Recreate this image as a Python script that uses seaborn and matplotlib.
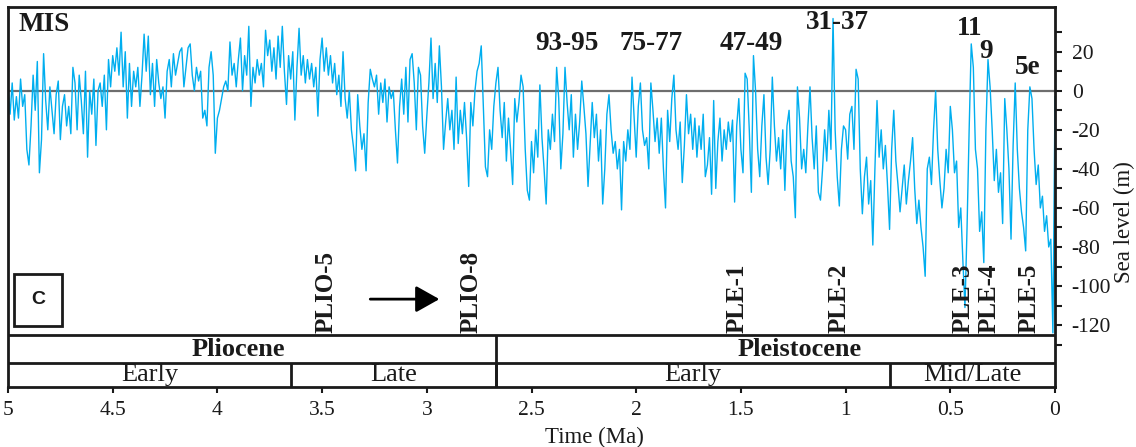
import numpy as np
import matplotlib
matplotlib.use("Agg")
import matplotlib.pyplot as plt
import seaborn as sns
from matplotlib.patches import Rectangle

# sea level (m), one reading every 10 kyr (5 Ma -> 0 Ma)
sl_5_4 = [2, -12, 4, -15, -3, -14, 6, -8, -2, -30,
          -38, -18, 8, -10, 15, -42, -25, 19, -5, -20,
          2, -10, -22, -2, 5, -25, -8, -2, -18, -8,
          -22, 12, 4, -20, 8, -5, -22, 10, -34, 0,
          -12, 6, -28, 0, 4, -8, 8, -20, 16, 2,
          18, 10, 22, 8, 30, 2, 20, -14, 14, -8,
          10, 2, 12, -8, 8, 29, 10, 28, -2, 14,
          -8, 16, 4, -4, 2, -14, 10, 16, 2, 19,
          8, 14, 20, 22, 2, 12, 22, 24, 8, 0,
          12, 5, 10, -14, -10, -18, 12, 20, 8, -32]
sl_4_3 = [-14, -10, -4, 2, 5, 0, 25, 8, 14, 2,
          16, 27, 0, 18, 8, 33, -8, 12, 4, 16,
          8, 14, 2, 31, 18, 26, 10, 22, 6, 28,
          12, 33, 10, -7, 18, 6, 20, -15, 12, 32,
          8, 18, 4, 16, 6, 14, 2, 12, -13, 16,
          27, 10, 22, 8, 18, 4, 14, -2, 8, -8,
          20, -4, -14, 0, -20, -29, -41, -2, -18, -30,
          -22, -41, -6, 11, 6, 2, 8, -12, 4, -6,
          6, -16, 2, -4, 0, -20, -37, -8, 6, -12,
          12, -16, 16, 19, 4, -20, 12, 8, -18, -32]
sl_3_2 = [-13, 4, 27, -4, 14, -6, 23, 2, -30, -16,
          -4, -20, -10, -30, 7, -27, -10, -22, -6, -24,
          -49, -6, -18, 0, 10, 14, 23, -8, -39, -44,
          -20, -30, -8, 4, 12, -10, -24, -6, -36, -14,
          -30, -48, -4, -16, -6, 8, 2, -30, -51, -56,
          -26, -42, -20, -34, 3, -24, -40, -58, -20, -30,
          -12, -26, 12, -4, -40, -22, 12, -6, -20, -2,
          -34, -12, -30, -16, 5, -8, -22, -49, -28, -6,
          -24, -12, -36, -20, -58, -40, -12, -2, -20, -32,
          -26, -40, -30, -61, -26, -36, -20, -30, 7, -14]
sl_2_1 = [-34, -8, 4, -20, -28, -24, -40, 4, -10, -26,
          -14, -32, -14, -40, -60, -10, -26, -4, 8, -20,
          -30, -16, -47, -28, -2, -22, -12, -30, -14, -34,
          -18, -30, -12, -44, -38, -24, -53, -5, -50, -26,
          -14, -36, -20, -30, -16, -26, -15, -57, -18, -4,
          -30, -42, 9, 6, -20, -52, 18, 0, -30, -44,
          -18, -2, -34, -48, -30, 7, -18, -36, -24, -40,
          -20, -51, -18, -10, -36, -44, -65, 2, -14, -40,
          -30, -42, -18, 2, -24, -40, -18, -52, -56, -40,
          -20, -36, -10, -30, 37, -20, -44, -59, -30, -18]
sl_1_0 = [-20, -35, -12, -8, -30, 11, 6, -40, -63, -44,
          -34, -58, -46, -79, -40, -5, -34, -20, -40, -28,
          -48, -71, -30, -10, -36, -48, -62, -50, -38, -58,
          -46, -36, -24, -50, -68, -56, -70, -80, -95, -40,
          -34, -48, -20, 0, -30, -46, -60, -50, -30, -42,
          -8, -20, -42, -36, -70, -60, -87, -111, -70, -20,
          24, 12, -30, -40, -72, -62, -88, -20, 16, 2,
          -20, -46, -30, -52, -42, -68, -4, -20, -40, -76,
          -28, 4, -30, -50, -62, -70, -82, -20, 2, -4,
          -30, -48, -38, -60, -54, -72, -64, -80, -76, -124,
          -3]

mis_labels = ['93-95', '75-77', '47-49', '31-37', '11', '9', '5e']
mis_age = [2.33, 1.93, 1.45, 1.04, 0.41, 0.33, 0.13]
mis_level = [24, 24, 24, 35, 32, 20, 12]

sample_labels = ['PLIO-5', 'PLIO-8', 'PLE-1', 'PLE-2', 'PLE-3', 'PLE-4', 'PLE-5']
sample_age = [3.48, 2.79, 1.52, 1.03, 0.44, 0.315, 0.125]

epochs = ['Pliocene', 'Pleistocene']
epoch_bounds = [5, 2.67, 0]
epoch_label_age = [3.9, 1.22]
subepochs = ['Early', 'Late', 'Early', 'Mid/Late']
subepoch_bounds = [5, 3.65, 2.67, 0.79, 0]

level = np.array(sl_5_4 + sl_4_3 + sl_3_2 + sl_2_1 + sl_1_0, dtype=float)
ages = np.linspace(5, 0, len(level))

sns.set_style("ticks")
plt.rcParams['font.family'] = ['Liberation Serif', 'DejaVu Sans']
plt.rcParams['axes.unicode_minus'] = False

ymin, ymax = -151.7, 42.9
band_top, band_mid = -125.1, -139.4

fig = plt.figure(figsize=(11.36, 4.47), dpi=100)
ax = fig.add_axes([8 / 1136, 60 / 447, 1047 / 1136, 380 / 447])

ax.axhline(0, color='#6e6e6e', lw=1.6, zorder=1)
sns.lineplot(x=ages, y=level, color='#00aeef', linewidth=1.0, ax=ax,
             estimator=None, sort=False, zorder=2)

ax.set_xlim(5, 0)
ax.set_ylim(ymin, ymax)

# chronostratigraphy bands
ax.axhline(band_top, color='#1a1a1a', lw=2)
ax.axhline(band_mid, color='#1a1a1a', lw=2)
ax.vlines(epoch_bounds[1:-1], ymin, band_top, color='#1a1a1a', lw=2)
ax.vlines(subepoch_bounds[1:-1], ymin, band_mid, color='#1a1a1a', lw=2)
for name, xpos in zip(epochs, epoch_label_age):
    ax.text(xpos, (band_top + band_mid) / 2, name, ha='center', va='center',
            fontsize=19, fontweight='bold', color='#1a1a1a')
for i, name in enumerate(subepochs):
    xpos = (subepoch_bounds[i] + subepoch_bounds[i + 1]) / 2
    ax.text(xpos, (band_mid + ymin) / 2, name, ha='center', va='center',
            fontsize=19, color='#1a1a1a')

# MIS labels
ax.text(0.01, 0.955, 'MIS', transform=ax.transAxes, ha='left', va='center',
        fontsize=19.5, fontweight='bold', color='#1a1a1a')
for lab, a, l in zip(mis_labels, mis_age, mis_level):
    ax.text(a, l, lab, ha='center', va='center', fontsize=19.5,
            fontweight='bold', color='#1a1a1a')

# sample labels
for lab, a in zip(sample_labels, sample_age):
    ax.text(a, band_top + 1, lab, rotation=90, ha='center', va='bottom',
            fontsize=18, fontweight='bold', color='#1a1a1a')

ax.annotate('', xy=(2.94, -106.7), xytext=(3.27, -106.7),
            arrowprops=dict(arrowstyle='-|>,head_length=0.8,head_width=0.45',
                            color='black', lw=2, mutation_scale=18,
                            shrinkA=0, shrinkB=0))

# panel letter box
ax.add_patch(Rectangle((0.0057, 0.1605), 0.0458, 0.137, transform=ax.transAxes,
                       fill=False, edgecolor='#1a1a1a', lw=2))
ax.text(0.0286, 0.229, 'C', transform=ax.transAxes, ha='center', va='center',
        fontsize=14, fontweight='bold', family='Liberation Sans', color='#1a1a1a')

# axes and ticks
for s in ax.spines.values():
    s.set_linewidth(2)
    s.set_color('#1a1a1a')
ax.yaxis.tick_right()
ax.set_yticks(np.arange(-120, 21, 20))
ax.set_yticks(np.arange(-130, 31, 20), minor=True)
ax.tick_params(axis='y', which='both', direction='out', length=5, width=1.5,
               labelsize=15.5, pad=7, colors='#1a1a1a', left=False, right=True)
ax.set_xticks(np.arange(0, 5.01, 0.5))
ax.set_xticklabels(['0', '0.5', '1', '1.5', '2', '2.5', '3', '3.5', '4', '4.5', '5'])
ax.tick_params(axis='x', direction='out', length=4, width=1.5, labelsize=15.5,
               pad=6, colors='#1a1a1a')

ax.set_xlabel('Time (Ma)', fontsize=16.5, color='#1a1a1a')
ax.xaxis.set_label_coords(0.56, -0.105)
ax.yaxis.set_label_position('right')
ax.set_ylabel('Sea level (m)', fontsize=16.5, color='#1a1a1a', rotation=90,
              va='center', ha='center')
ax.yaxis.set_label_coords(1.066, 0.434)

fig.savefig('out.png', dpi=100)
